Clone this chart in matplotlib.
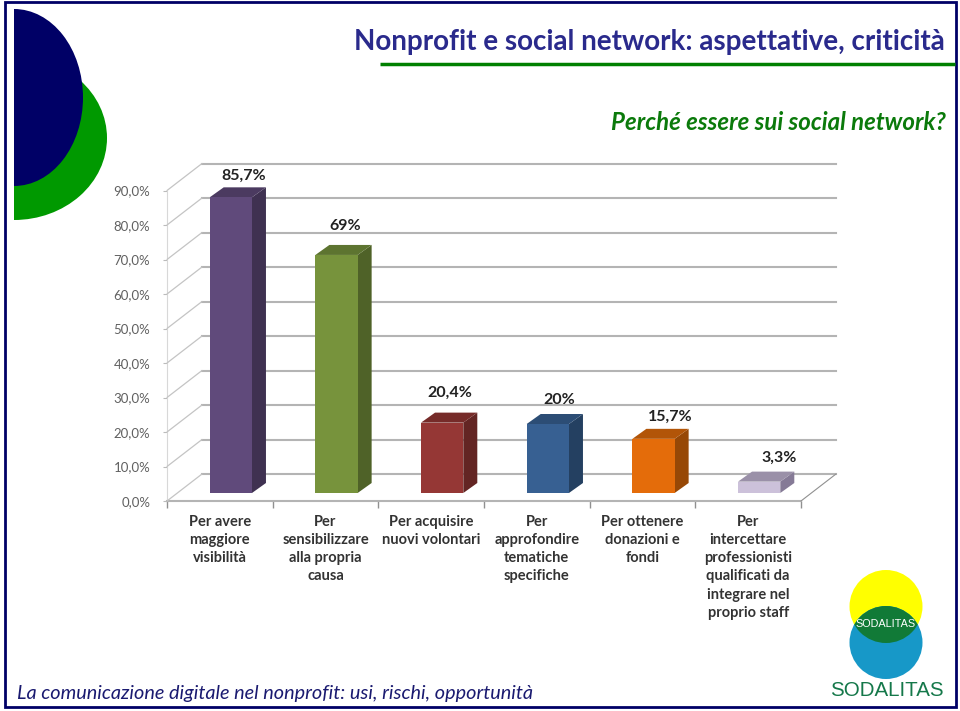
import matplotlib
matplotlib.use('Agg')
import matplotlib.pyplot as plt
from matplotlib.patches import Polygon, Circle, Ellipse, Rectangle
from matplotlib.transforms import Affine2D

# --- Data ---
categories = ['Per avere\nmaggiore\nvisibilità',
              'Per\nsensibilizzare\nalla propria\ncausa',
              'Per acquisire\nnuovi volontari',
              'Per\napprofondire\ntematiche\nspecifiche',
              'Per ottenere\ndonazioni e\nfondi',
              'Per\nintercettare\nprofessionisti\nqualificati da\nintegrare nel\nproprio staff']
values = [85.7, 69.0, 20.4, 20.0, 15.7, 3.3]
value_labels = ['85,7%', '69%', '20,4%', '20%', '15,7%', '3,3%']
yticks = [0, 10, 20, 30, 40, 50, 60, 70, 80, 90]
ytick_labels = ['0,0%', '10,0%', '20,0%', '30,0%', '40,0%', '50,0%', '60,0%', '70,0%', '80,0%', '90,0%']

# --- Styles ---
front_colors = ['#604a7b', '#77933c', '#953735', '#376092', '#e46c0a', '#ccc1da']
side_colors = ['#3f3151', '#4f6228', '#632523', '#244061', '#974806', '#857a96']
top_colors = ['#4b3a60', '#5d7430', '#762b29', '#2c4d75', '#b25508', '#9a90a8']
label_dx = [13, 9, 8, 11, 17, 20]  # pixels from the top of each bar
label_dy = [22, 29, 30, 24, 22, 24]

W, H = 960, 711
NAVY = '#000066'
GREEN = '#009900'
GRID = '#b4b4b4'

plt.rcParams['font.family'] = ['Lato', 'DejaVu Sans']
fig = plt.figure(figsize=(W / 100, H / 100), dpi=100)

# overlay in pixel coordinates for the slide furniture
bg = fig.add_axes([0, 0, 1, 1])
bg.set_xlim(0, W)
bg.set_ylim(H, 0)
bg.axis('off')
bg.add_patch(Rectangle((5, 2), 951, 705, fill=False, ec=NAVY, lw=2))

# half ellipses, left
clip = Rectangle((14, 0), 200, 300, transform=bg.transData)
green_shape = Ellipse((14, 138), 186, 164, fc=GREEN, ec='none')
navy_shape = Ellipse((14, 97.5), 138, 177, fc=NAVY, ec='none')
for shape in (green_shape, navy_shape):
    bg.add_patch(shape)
    shape.set_clip_path(clip)
bg.plot([380, 955], [64, 64], color='#008000', lw=2.5, solid_capstyle='butt')

bg.text(945, 42, 'Nonprofit e social network: aspettative, criticità', ha='right', va='center',
        fontsize=20, color='#2a2a8c', fontweight='bold')
bg.text(946, 122, 'Perché essere sui social network?', ha='right', va='center',
        fontsize=17.3, color='#0b7a0b', style='italic', fontweight='bold')
bg.text(17, 694, 'La comunicazione digitale nel nonprofit: usi, rischi, opportunità', ha='left', va='center',
        fontsize=14.3, color='#1a1a70', style='italic')

# logo
bg.add_patch(Circle((886, 606.5), 36.5, fc='#ffff00', ec='none'))
bg.add_patch(Circle((886, 642.5), 36.5, fc='#1798c8', ec='none'))
lens = Circle((886, 606.5), 36.5, fc='#117a37', ec='none')
bg.add_patch(lens)
lens.set_clip_path(Circle((886, 642.5), 36.5, transform=bg.transData))
bg.text(886, 624, 'SODALITAS', ha='center', va='center', fontsize=7.8, color='white',
        family=['Liberation Sans'])
bg.text(886.5, 691, 'SODALITAS', ha='center', va='center', fontsize=14.8, color='#15784a',
        family=['Liberation Sans'])

# --- Chart: axes sit on the front plane of the 3D box ---
x0, x1, y0, y_top = 167, 801, 501, 190.5
ax = fig.add_axes([x0 / W, 1 - y0 / H, (x1 - x0) / W, (y0 - y_top) / H])
ax.set_xlim(0, 6)
ax.set_ylim(0, 90)
ax.patch.set_alpha(0)
for s in ['top', 'right']:
    ax.spines[s].set_visible(False)
ax.spines['left'].set_color('#d8d8d8')
ax.spines['left'].set_linewidth(0.8)
ax.spines['bottom'].set_color(GRID)
ax.spines['bottom'].set_linewidth(1.5)
ax.set_xticks(range(7))
ax.set_xticklabels([])
ax.tick_params(axis='x', length=5, color='#909090', direction='out', width=1)
ax.set_yticks(yticks)
ax.set_yticklabels(ytick_labels, fontsize=9.5, color='#606060')
ax.tick_params(axis='y', length=3, color='#bbbbbb', pad=9)

# back wall and floor lines, shifted by the box depth
back = ax.transData + Affine2D().translate(35, 27)
for y in yticks:
    ax.plot([0, 6], [y, y], color=GRID, lw=1.5, transform=back, clip_on=False, zorder=1)
    ax.annotate('', xy=(0, y), xytext=(35, 27), xycoords='data', textcoords='offset pixels',
                arrowprops=dict(arrowstyle='-', color='#c4c4c4', lw=0.9, shrinkA=0, shrinkB=0))
ax.annotate('', xy=(6, 0), xytext=(35, 27), xycoords='data', textcoords='offset pixels',
            arrowprops=dict(arrowstyle='-', color='#909090', lw=0.8, shrinkA=0, shrinkB=0))

# bars, on a plane between the front and the back
BAR_W = 0.4
DX, DY = 14, 10
px_x = (x1 - x0) / 6
px_y = (y0 - y_top) / 90
bar_tr = ax.transData + Affine2D().translate(11, 8)
for i, v in enumerate(values):
    left = i + 0.5 - BAR_W / 2
    right = left + BAR_W
    ddx, ddy = DX / px_x, DY / px_y
    ax.bar(i + 0.5, v, BAR_W, color=front_colors[i], transform=bar_tr, clip_on=False, zorder=4)
    ax.add_patch(Polygon([(right, 0), (right + ddx, ddy), (right + ddx, v + ddy), (right, v)],
                         fc=side_colors[i], ec='none', transform=bar_tr, clip_on=False, zorder=3))
    ax.add_patch(Polygon([(left, v), (right, v), (right + ddx, v + ddy), (left + ddx, v + ddy)],
                         fc=top_colors[i], ec='none', transform=bar_tr, clip_on=False, zorder=3))
    ax.text(i + 0.5, v, value_labels[i], transform=bar_tr + Affine2D().translate(label_dx[i], label_dy[i]),
            ha='center', va='center', fontsize=11.5, fontweight='bold', color='#222222', clip_on=False, zorder=5)

for i, label in enumerate(categories):
    ax.text(i + 0.5, -4.0, label, ha='center', va='top', fontsize=10.5,
            color='#333333', fontweight='bold', linespacing=1.38, clip_on=False)

fig.savefig('out.png', dpi=100)
